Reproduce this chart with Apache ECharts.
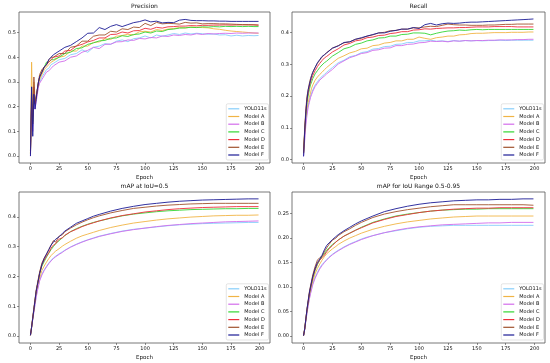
<!DOCTYPE html>
<html><head><meta charset="utf-8">
<script src="https://cdn.jsdelivr.net/npm/echarts@6/dist/echarts.min.js"></script>
<style>html,body{margin:0;padding:0;background:#fff}#c{width:550px;height:363px}</style>
</head><body><div id="c"></div>
<script>
const modelNames = ['YOLO11s','Model A','Model B','Model C','Model D','Model E','Model F'];
const panelTitles = ['Precision','Recall','mAP at IoU=0.5','mAP for IoU Range 0.5-0.95'];
const xTicks = [0,25,50,75,100,125,150,175,200];
const yTicksP = [0,0.1,0.2,0.3,0.4,0.5];
const yTicksR = [0,0.1,0.2,0.3,0.4];
const yTicksM50 = [0,0.1,0.2,0.3,0.4];
const yTicksM5095 = [0,0.05,0.10,0.15,0.20,0.25];

// epochs sampled for precision / recall
const epochsPR = [0,1,2,3,4,5,6,7,8,10,12,14,16,18,20,25,30,35,40,45,50,55,60,65,70,75,80,85,90,95,100,105,110,115,120,125,130,135,140,145,150,155,160,165,170,175,180,185,190,195,199];
// epochs sampled for mAP curves
const epochsM = [0,1,2,3,4,5,6,8,10,12,14,16,18,20,22,25,28,30,35,40,45,50,55,60,70,80,90,100,110,120,130,140,150,160,170,180,190,199];

const precYOLO = [0.02,0.21,0.12,0.26,0.20,0.24,0.26,0.28,0.30,0.32,0.335,0.35,0.355,0.37,0.375,0.39,0.395,0.41,0.415,0.43,0.42,0.44,0.445,0.455,0.452,0.465,0.47,0.463,0.475,0.478,0.486,0.478,0.49,0.485,0.49,0.496,0.492,0.498,0.494,0.497,0.495,0.493,0.494,0.49,0.491,0.486,0.489,0.486,0.488,0.487,0.488];
const precA = [0.01,0.38,0.15,0.30,0.21,0.23,0.26,0.29,0.31,0.33,0.35,0.36,0.37,0.38,0.385,0.40,0.405,0.425,0.425,0.445,0.445,0.46,0.462,0.475,0.472,0.485,0.488,0.493,0.49,0.503,0.505,0.502,0.512,0.508,0.514,0.516,0.52,0.518,0.522,0.521,0.52,0.519,0.515,0.513,0.509,0.506,0.504,0.502,0.5,0.498,0.497];
const precB = [0.00,0.20,0.10,0.25,0.19,0.22,0.25,0.28,0.295,0.31,0.325,0.34,0.345,0.355,0.365,0.38,0.385,0.40,0.405,0.42,0.428,0.44,0.435,0.452,0.453,0.462,0.463,0.47,0.468,0.476,0.474,0.48,0.478,0.486,0.484,0.49,0.488,0.492,0.49,0.495,0.492,0.496,0.494,0.496,0.497,0.496,0.498,0.497,0.498,0.498,0.498];
const precC = [0.01,0.22,0.14,0.27,0.21,0.24,0.27,0.30,0.32,0.34,0.36,0.38,0.38,0.39,0.39,0.40,0.415,0.42,0.435,0.438,0.452,0.458,0.466,0.468,0.477,0.478,0.487,0.484,0.492,0.494,0.502,0.498,0.506,0.504,0.512,0.514,0.518,0.519,0.521,0.52,0.523,0.522,0.524,0.523,0.525,0.524,0.525,0.524,0.525,0.524,0.524];
const precD = [0.01,0.21,0.16,0.28,0.21,0.24,0.27,0.30,0.32,0.34,0.36,0.37,0.38,0.39,0.40,0.405,0.425,0.428,0.445,0.452,0.462,0.468,0.478,0.478,0.492,0.493,0.502,0.498,0.507,0.508,0.517,0.513,0.521,0.518,0.523,0.524,0.526,0.526,0.528,0.527,0.529,0.529,0.53,0.53,0.531,0.53,0.531,0.531,0.531,0.531,0.53];
const precE = [0.02,0.28,0.13,0.32,0.22,0.24,0.27,0.30,0.33,0.35,0.36,0.37,0.39,0.40,0.40,0.415,0.415,0.44,0.445,0.465,0.465,0.485,0.49,0.49,0.505,0.502,0.515,0.512,0.522,0.52,0.537,0.528,0.541,0.535,0.537,0.536,0.534,0.541,0.538,0.539,0.535,0.536,0.536,0.535,0.535,0.534,0.533,0.532,0.532,0.531,0.53];
const precF = [0.00,0.28,0.08,0.25,0.19,0.23,0.27,0.30,0.32,0.34,0.36,0.37,0.39,0.40,0.41,0.425,0.44,0.448,0.463,0.478,0.497,0.498,0.52,0.512,0.525,0.532,0.524,0.532,0.54,0.544,0.551,0.543,0.546,0.539,0.541,0.54,0.55,0.553,0.549,0.548,0.548,0.547,0.547,0.546,0.546,0.545,0.545,0.545,0.545,0.545,0.545];

const recYOLO = [0.01,0.07,0.12,0.15,0.17,0.185,0.2,0.21,0.22,0.235,0.245,0.255,0.262,0.268,0.275,0.29,0.305,0.313,0.324,0.328,0.337,0.34,0.348,0.35,0.356,0.357,0.363,0.364,0.369,0.369,0.374,0.374,0.376,0.373,0.374,0.372,0.375,0.373,0.375,0.374,0.375,0.374,0.375,0.375,0.376,0.375,0.376,0.376,0.376,0.376,0.376];
const recA = [0.02,0.08,0.13,0.16,0.18,0.195,0.21,0.225,0.235,0.25,0.26,0.268,0.275,0.283,0.29,0.305,0.319,0.327,0.336,0.341,0.349,0.351,0.359,0.361,0.367,0.369,0.374,0.374,0.379,0.379,0.386,0.382,0.379,0.384,0.386,0.389,0.389,0.393,0.394,0.397,0.398,0.398,0.399,0.4,0.4,0.4,0.401,0.401,0.401,0.402,0.402];
const recB = [0.01,0.06,0.11,0.14,0.165,0.18,0.195,0.205,0.215,0.23,0.24,0.25,0.257,0.263,0.27,0.284,0.301,0.311,0.321,0.327,0.334,0.337,0.344,0.346,0.351,0.352,0.359,0.359,0.363,0.364,0.368,0.369,0.373,0.372,0.373,0.371,0.374,0.373,0.375,0.374,0.375,0.375,0.376,0.376,0.377,0.377,0.377,0.378,0.378,0.379,0.379];
const recC = [0.02,0.09,0.14,0.18,0.2,0.22,0.235,0.245,0.255,0.27,0.28,0.29,0.298,0.305,0.31,0.326,0.337,0.349,0.354,0.363,0.367,0.374,0.377,0.383,0.384,0.389,0.389,0.394,0.395,0.399,0.399,0.398,0.393,0.398,0.402,0.405,0.406,0.408,0.407,0.409,0.41,0.409,0.41,0.41,0.41,0.41,0.41,0.41,0.41,0.41,0.41];
const recD = [0.02,0.09,0.15,0.19,0.21,0.23,0.245,0.255,0.265,0.28,0.293,0.303,0.312,0.32,0.325,0.339,0.349,0.361,0.366,0.374,0.377,0.384,0.386,0.391,0.392,0.397,0.399,0.403,0.403,0.408,0.409,0.412,0.411,0.413,0.414,0.415,0.415,0.416,0.416,0.417,0.418,0.418,0.418,0.419,0.419,0.419,0.419,0.418,0.418,0.418,0.418];
const recE = [0.02,0.1,0.16,0.2,0.22,0.24,0.255,0.265,0.275,0.29,0.303,0.313,0.323,0.33,0.337,0.351,0.359,0.368,0.371,0.379,0.382,0.389,0.393,0.399,0.401,0.406,0.407,0.411,0.411,0.415,0.415,0.418,0.42,0.419,0.423,0.427,0.425,0.424,0.424,0.423,0.423,0.423,0.424,0.424,0.425,0.426,0.426,0.427,0.427,0.427,0.427];
const recF = [0.01,0.09,0.15,0.19,0.22,0.235,0.25,0.265,0.275,0.29,0.305,0.315,0.325,0.33,0.336,0.351,0.358,0.369,0.371,0.379,0.384,0.389,0.394,0.399,0.399,0.404,0.407,0.411,0.411,0.416,0.413,0.425,0.429,0.424,0.428,0.43,0.429,0.43,0.432,0.433,0.433,0.434,0.435,0.436,0.437,0.438,0.439,0.44,0.441,0.442,0.443];

const m50YOLO = [0.003,0.03,0.058,0.083,0.108,0.133,0.153,0.188,0.208,0.222,0.234,0.245,0.254,0.262,0.268,0.276,0.283,0.288,0.299,0.308,0.316,0.323,0.329,0.335,0.344,0.352,0.358,0.362,0.366,0.37,0.373,0.375,0.377,0.378,0.379,0.38,0.381,0.381];
const m50A = [0.003,0.03,0.06,0.085,0.115,0.14,0.16,0.195,0.22,0.235,0.248,0.26,0.27,0.278,0.285,0.293,0.302,0.307,0.318,0.328,0.336,0.342,0.348,0.354,0.364,0.372,0.379,0.384,0.389,0.393,0.396,0.399,0.401,0.403,0.404,0.405,0.405,0.406];
const m50B = [0.003,0.028,0.055,0.08,0.105,0.13,0.15,0.185,0.205,0.22,0.232,0.243,0.252,0.26,0.266,0.274,0.281,0.287,0.298,0.307,0.315,0.322,0.328,0.334,0.343,0.351,0.357,0.362,0.367,0.371,0.374,0.377,0.379,0.381,0.383,0.384,0.385,0.386];
const m50C = [0.003,0.03,0.06,0.09,0.12,0.15,0.17,0.21,0.235,0.25,0.265,0.278,0.29,0.3,0.31,0.32,0.33,0.337,0.35,0.36,0.368,0.375,0.381,0.386,0.395,0.403,0.409,0.413,0.417,0.42,0.422,0.424,0.425,0.426,0.427,0.427,0.428,0.428];
const m50D = [0.003,0.03,0.06,0.09,0.12,0.15,0.17,0.21,0.24,0.255,0.268,0.28,0.295,0.305,0.31,0.325,0.33,0.338,0.35,0.358,0.367,0.374,0.38,0.386,0.396,0.404,0.41,0.416,0.42,0.424,0.427,0.429,0.431,0.432,0.433,0.434,0.434,0.434];
const m50E = [0.003,0.03,0.065,0.095,0.125,0.155,0.175,0.215,0.245,0.262,0.275,0.29,0.305,0.32,0.315,0.335,0.34,0.35,0.362,0.373,0.382,0.39,0.397,0.403,0.413,0.421,0.428,0.432,0.436,0.439,0.441,0.443,0.444,0.445,0.445,0.445,0.445,0.445];
const m50F = [0.003,0.03,0.06,0.09,0.12,0.15,0.17,0.21,0.24,0.26,0.275,0.29,0.305,0.315,0.325,0.333,0.345,0.352,0.365,0.378,0.386,0.394,0.402,0.408,0.419,0.428,0.435,0.441,0.445,0.449,0.452,0.454,0.456,0.457,0.458,0.459,0.46,0.46];

const m95YOLO = [0.001,0.014,0.032,0.048,0.063,0.077,0.088,0.107,0.12,0.13,0.139,0.146,0.151,0.156,0.161,0.167,0.172,0.175,0.182,0.188,0.193,0.198,0.202,0.205,0.211,0.215,0.219,0.222,0.224,0.225,0.226,0.226,0.226,0.226,0.226,0.226,0.226,0.226];
const m95A = [0.001,0.014,0.033,0.05,0.066,0.08,0.092,0.112,0.127,0.138,0.147,0.155,0.162,0.168,0.172,0.178,0.183,0.187,0.194,0.2,0.205,0.21,0.214,0.218,0.224,0.229,0.233,0.236,0.239,0.241,0.243,0.244,0.245,0.245,0.245,0.245,0.245,0.245];
const m95B = [0.001,0.013,0.031,0.047,0.062,0.075,0.086,0.105,0.118,0.128,0.137,0.144,0.15,0.155,0.16,0.166,0.171,0.174,0.181,0.187,0.192,0.197,0.201,0.205,0.211,0.216,0.22,0.223,0.225,0.227,0.228,0.229,0.23,0.231,0.231,0.232,0.232,0.232];
const m95C = [0.001,0.015,0.035,0.054,0.07,0.085,0.097,0.118,0.134,0.146,0.155,0.162,0.168,0.175,0.18,0.187,0.192,0.196,0.204,0.21,0.216,0.222,0.227,0.232,0.239,0.245,0.249,0.252,0.255,0.257,0.258,0.259,0.259,0.26,0.26,0.26,0.26,0.26];
const m95D = [0.001,0.015,0.035,0.054,0.07,0.086,0.098,0.12,0.136,0.148,0.155,0.16,0.165,0.172,0.178,0.185,0.192,0.196,0.204,0.21,0.216,0.221,0.226,0.231,0.238,0.244,0.248,0.252,0.255,0.257,0.259,0.26,0.261,0.261,0.262,0.262,0.262,0.262];
const m95E = [0.001,0.015,0.036,0.056,0.073,0.09,0.102,0.125,0.142,0.155,0.16,0.163,0.172,0.18,0.187,0.196,0.2,0.205,0.213,0.219,0.226,0.232,0.237,0.242,0.249,0.254,0.258,0.261,0.264,0.266,0.268,0.268,0.268,0.268,0.268,0.268,0.268,0.267];
const m95F = [0.001,0.015,0.035,0.055,0.072,0.088,0.1,0.122,0.138,0.15,0.157,0.165,0.176,0.185,0.19,0.197,0.203,0.207,0.215,0.222,0.229,0.235,0.24,0.245,0.254,0.26,0.265,0.269,0.272,0.274,0.276,0.277,0.278,0.278,0.279,0.279,0.28,0.28];

const colors = ['#87CEFA','#F0B445','#D36CEB','#33D633','#EE2E3C','#A0522D','#1B1B95'];
const FONT = 'DejaVu Sans';

const panels = [
  {epochs: epochsPR, series:[precYOLO,precA,precB,precC,precD,precE,precF], yMin:-0.028, yMax:0.583, ticks:yTicksP, dec:1},
  {epochs: epochsPR, series:[recYOLO,recA,recB,recC,recD,recE,recF], yMin:-0.011, yMax:0.465, ticks:yTicksR, dec:1},
  {epochs: epochsM, series:[m50YOLO,m50A,m50B,m50C,m50D,m50E,m50F], yMin:-0.023, yMax:0.483, ticks:yTicksM50, dec:1},
  {epochs: epochsM, series:[m95YOLO,m95A,m95B,m95C,m95D,m95E,m95F], yMin:-0.014, yMax:0.294, ticks:yTicksM5095, dec:2}
];
const gridBoxes = [
  {left:19, top:12, width:251, height:151},
  {left:292, top:12, width:253, height:151},
  {left:19, top:192, width:251, height:151},
  {left:292, top:192, width:253, height:151}
];

const option = {
  animation:false,
  backgroundColor:'#fff',
  grid: gridBoxes.map(g=>({left:g.left, top:g.top, width:g.width, height:g.height, show:true, borderColor:'#555', borderWidth:0.8, backgroundColor:'transparent', containLabel:false})),
  xAxis: gridBoxes.map((g,i)=>({
    type:'value', gridIndex:i, min:-10, max:209, position:'bottom',
    name:'Epoch', nameLocation:'middle', nameGap:12,
    nameTextStyle:{fontFamily:FONT, fontSize:5.5, color:'#111'},
    axisLine:{show:false, onZero:false}, splitLine:{show:false},
    axisTick:{show:true, inside:false, length:2, customValues:xTicks, lineStyle:{color:'#444', width:0.6}},
    axisLabel:{customValues:xTicks, fontFamily:FONT, fontSize:5, color:'#111', margin:3, formatter:v=>String(v)}
  })),
  yAxis: panels.map((p,i)=>({
    type:'value', gridIndex:i, min:p.yMin, max:p.yMax, position:'left',
    axisLine:{show:false, onZero:false}, splitLine:{show:false},
    axisTick:{show:true, inside:false, length:2, customValues:p.ticks, lineStyle:{color:'#444', width:0.6}},
    axisLabel:{customValues:p.ticks, fontFamily:FONT, fontSize:5, color:'#111', margin:3, formatter:v=>v.toFixed(p.dec)}
  })),
  legend: gridBoxes.map((g,i)=>({
    data: modelNames,
    orient:'vertical',
    right: 550-(g.left+g.width)+1.5,
    bottom: 363-(g.top+g.height)+3,
    icon:'rect', itemWidth:11, itemHeight:1.2, itemGap:1.7,
    padding:[2,2,2,2],
    backgroundColor:'rgba(255,255,255,0.85)', borderColor:'#d0d0d0', borderWidth:0.6, borderRadius:1.5,
    textStyle:{fontFamily:FONT, fontSize:5, color:'#111', lineHeight:6},
    selectedMode:false
  })),
  graphic: gridBoxes.map((g,i)=>({
    type:'text', x:g.left+g.width/2, y:g.top-5.5,
    style:{text:panelTitles[i], font:'6px "DejaVu Sans"', fill:'#111', align:'center', verticalAlign:'middle', textAlign:'center', textVerticalAlign:'middle'}
  })),
  series: []
};

panels.forEach((p,pi)=>{
  p.series.forEach((vals,si)=>{
    option.series.push({
      type:'line', name:modelNames[si], xAxisIndex:pi, yAxisIndex:pi,
      data: p.epochs.map((e,k)=>[e, vals[k]]),
      symbol:'none', smooth:false,
      lineStyle:{color:colors[si], width:0.9},
      itemStyle:{color:colors[si]},
      z: 2+si
    });
  });
});

const chart = echarts.init(document.getElementById('c'), null, {renderer:'canvas'});
chart.setOption(option);
</script>
</body></html>
